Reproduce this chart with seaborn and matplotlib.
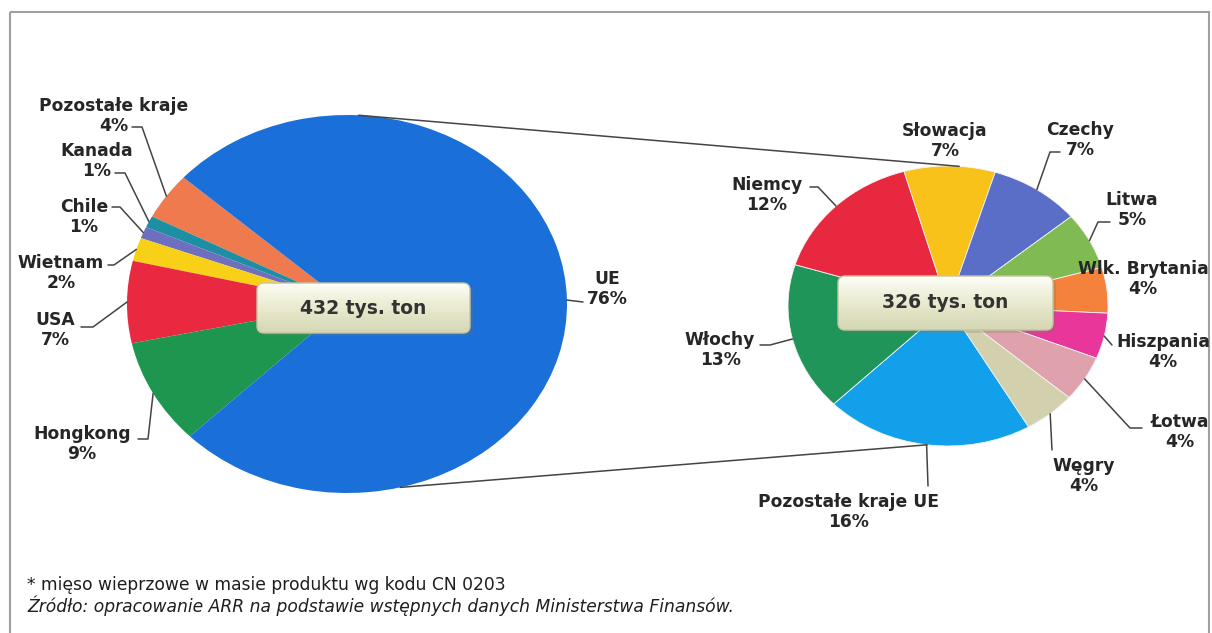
import numpy as np
import matplotlib.pyplot as plt
import seaborn as sns
from matplotlib.patches import FancyBboxPatch, Rectangle
from matplotlib.colors import LinearSegmentedColormap

# --- dane (udzialy w eksporcie, %) ---
world_labels = ['Pozostałe kraje', 'Kanada', 'Chile', 'Wietnam', 'USA', 'Hongkong', 'UE']
world_share = [4, 1, 1, 2, 7, 9, 76]
world_total = '432 tys. ton'

eu_labels = ['Słowacja', 'Czechy', 'Litwa', 'Wlk. Brytania', 'Hiszpania', 'Łotwa',
             'Węgry', 'Pozostałe kraje UE', 'Włochy', 'Niemcy']
eu_share = [7, 7, 5, 4, 4, 4, 4, 16, 13, 12]
eu_total = '326 tys. ton'

note1 = '* mięso wieprzowe w masie produktu wg kodu CN 0203'
note2 = 'Źródło: opracowanie ARR na podstawie wstępnych danych Ministerstwa Finansów.'

# --- wyglad ---
world_colors = ['#ee7a4e', '#1e8fa3', '#6f6fc0', '#f8d018', '#e9293f', '#1f9650', '#1b6fd8']
eu_colors = ['#f9c21a', '#5a6ec8', '#7fbb52', '#f4813c', '#e8369a', '#dfa2ad',
             '#d3d0ae', '#12a0ea', '#1f955a', '#e8283f']

W, H = 1212, 633
left_pie = dict(cx=347, cy=304, rx=220, ry=189, start=138, ccw=True)
right_pie = dict(cx=948, cy=306, rx=160, ry=140, start=106, ccw=False)

# pozycje etykiet (px): tekst, poczatek linii odniesienia, dlugosc poziomego odcinka
left_layout = {
    'Pozostałe kraje': ((114, 116), (132, 127), 10),
    'Kanada': ((97, 161), (115, 173), 10),
    'Chile': ((84, 217), (112, 207), 8),
    'Wietnam': ((61, 273), (108, 265), 6),
    'USA': ((55, 330), (81, 327), 12),
    'Hongkong': ((82, 444), (138, 439), 10),
    'UE': ((607, 289), (583, 302), 0),
}
right_layout = {
    'Słowacja': ((945, 141), None, 0),
    'Czechy': ((1080, 140), (1060, 152), -10),
    'Litwa': ((1132, 210), (1110, 222), -12),
    'Wlk. Brytania': ((1143, 279), None, 0),
    'Hiszpania': ((1163, 352), (1112, 345), 0),
    'Łotwa': ((1180, 432), (1142, 428), -12),
    'Węgry': ((1084, 476), (1052, 450), 0),
    'Pozostałe kraje UE': ((848, 512), (928, 486), 0),
    'Włochy': ((720, 350), (760, 345), 10),
    'Niemcy': ((767, 195), (810, 187), 8),
}

sns.set_theme(style='white')
plt.rcParams['font.family'] = ['DejaVu Sans']

fig = plt.figure(figsize=(W / 100, H / 100), dpi=100)
fig.patch.set_facecolor('white')


def ell_point(p, ang):
    a = np.deg2rad(ang)
    return p['cx'] + p['rx'] * np.cos(a), p['cy'] - p['ry'] * np.sin(a)


def draw_pie(p, values, colors, lw, ec):
    ax = fig.add_axes([(p['cx'] - p['rx']) / W, 1 - (p['cy'] + p['ry']) / H,
                       2 * p['rx'] / W, 2 * p['ry'] / H])
    wedges, _ = ax.pie(values, colors=colors, startangle=p['start'], counterclock=p['ccw'],
                       wedgeprops=dict(linewidth=lw, edgecolor=ec))
    ax.set_aspect('auto')
    ax.set_xlim(-1, 1)
    ax.set_ylim(-1, 1)
    ax.axis('off')
    return wedges


w_left = draw_pie(left_pie, world_share, world_colors, 0, 'none')
w_right = draw_pie(right_pie, eu_share, eu_colors, 0.6, '#f4f4f4')

ov = fig.add_axes([0, 0, 1, 1])
ov.set_facecolor('none')
ov.set_xlim(0, W)
ov.set_ylim(H, 0)
ov.set_autoscale_on(False)
ov.axis('off')

# ramka
ov.add_patch(Rectangle((10, 12), 1199, 640, fill=False, ec='#a0a0a0', lw=1.5))

# linie laczace oba wykresy
for a1, a2 in [(87, 86), (-76, -97.5)]:
    x1, y1 = ell_point(left_pie, a1)
    x2, y2 = ell_point(right_pie, a2)
    ov.plot([x1, x2], [y1, y2], color='#444444', lw=1.1)


def draw_labels(p, wedges, labels, values, layout):
    for w, lab, v in zip(wedges, labels, values):
        (tx, ty), start, stub = layout[lab]
        ov.text(tx, ty, f'{lab}\n{v}%', ha='center', va='center', fontsize=12.3,
                fontweight='bold', color='#262626', linespacing=1.15, zorder=6)
        if start is None:
            continue
        mid = (w.theta1 + w.theta2) / 2
        px, py = ell_point(p, mid)
        sx, sy = start
        ov.plot([sx, sx + stub, px], [sy, sy, py], color='#444444', lw=1.1, zorder=3)


draw_labels(left_pie, w_left, world_labels, world_share, left_layout)
draw_labels(right_pie, w_right, eu_labels, eu_share, right_layout)

# ramki z suma
cmap = LinearSegmentedColormap.from_list('box', ['#fdfdf6', '#e9eacf', '#d6d7b4'])
grad = np.linspace(0, 1, 64).reshape(-1, 1)
for (x0, y0, x1, y1), txt in [((257, 283, 470, 333), world_total),
                              ((838, 276, 1053, 330), eu_total)]:
    ov.add_patch(FancyBboxPatch((x0 + 3, y0 + 3), x1 - x0, y1 - y0,
                                boxstyle='round,pad=0,rounding_size=7',
                                fc='#7a7a60', ec='none', alpha=0.25, zorder=4))
    box = FancyBboxPatch((x0, y0), x1 - x0, y1 - y0, boxstyle='round,pad=0,rounding_size=7',
                         fc='none', ec='#c4c5a4', lw=1, zorder=5.5)
    ov.add_patch(box)
    im = ov.imshow(grad, cmap=cmap, extent=(x0, x1, y1, y0), aspect='auto', zorder=5)
    im.set_clip_path(box)
    ov.text((x0 + x1) / 2, (y0 + y1) / 2, txt, ha='center', va='center', fontsize=13.5,
            fontweight='bold', color='#333333', zorder=6)

ov.set_xlim(0, W)
ov.set_ylim(H, 0)

# przypisy
ov.text(27, 585, note1, ha='left', va='center', fontsize=12.3, color='#1e1e1e')
ov.text(27, 606, note2, ha='left', va='center', fontsize=12.3, style='italic', color='#1e1e1e')

fig.savefig('out.png', dpi=100)
